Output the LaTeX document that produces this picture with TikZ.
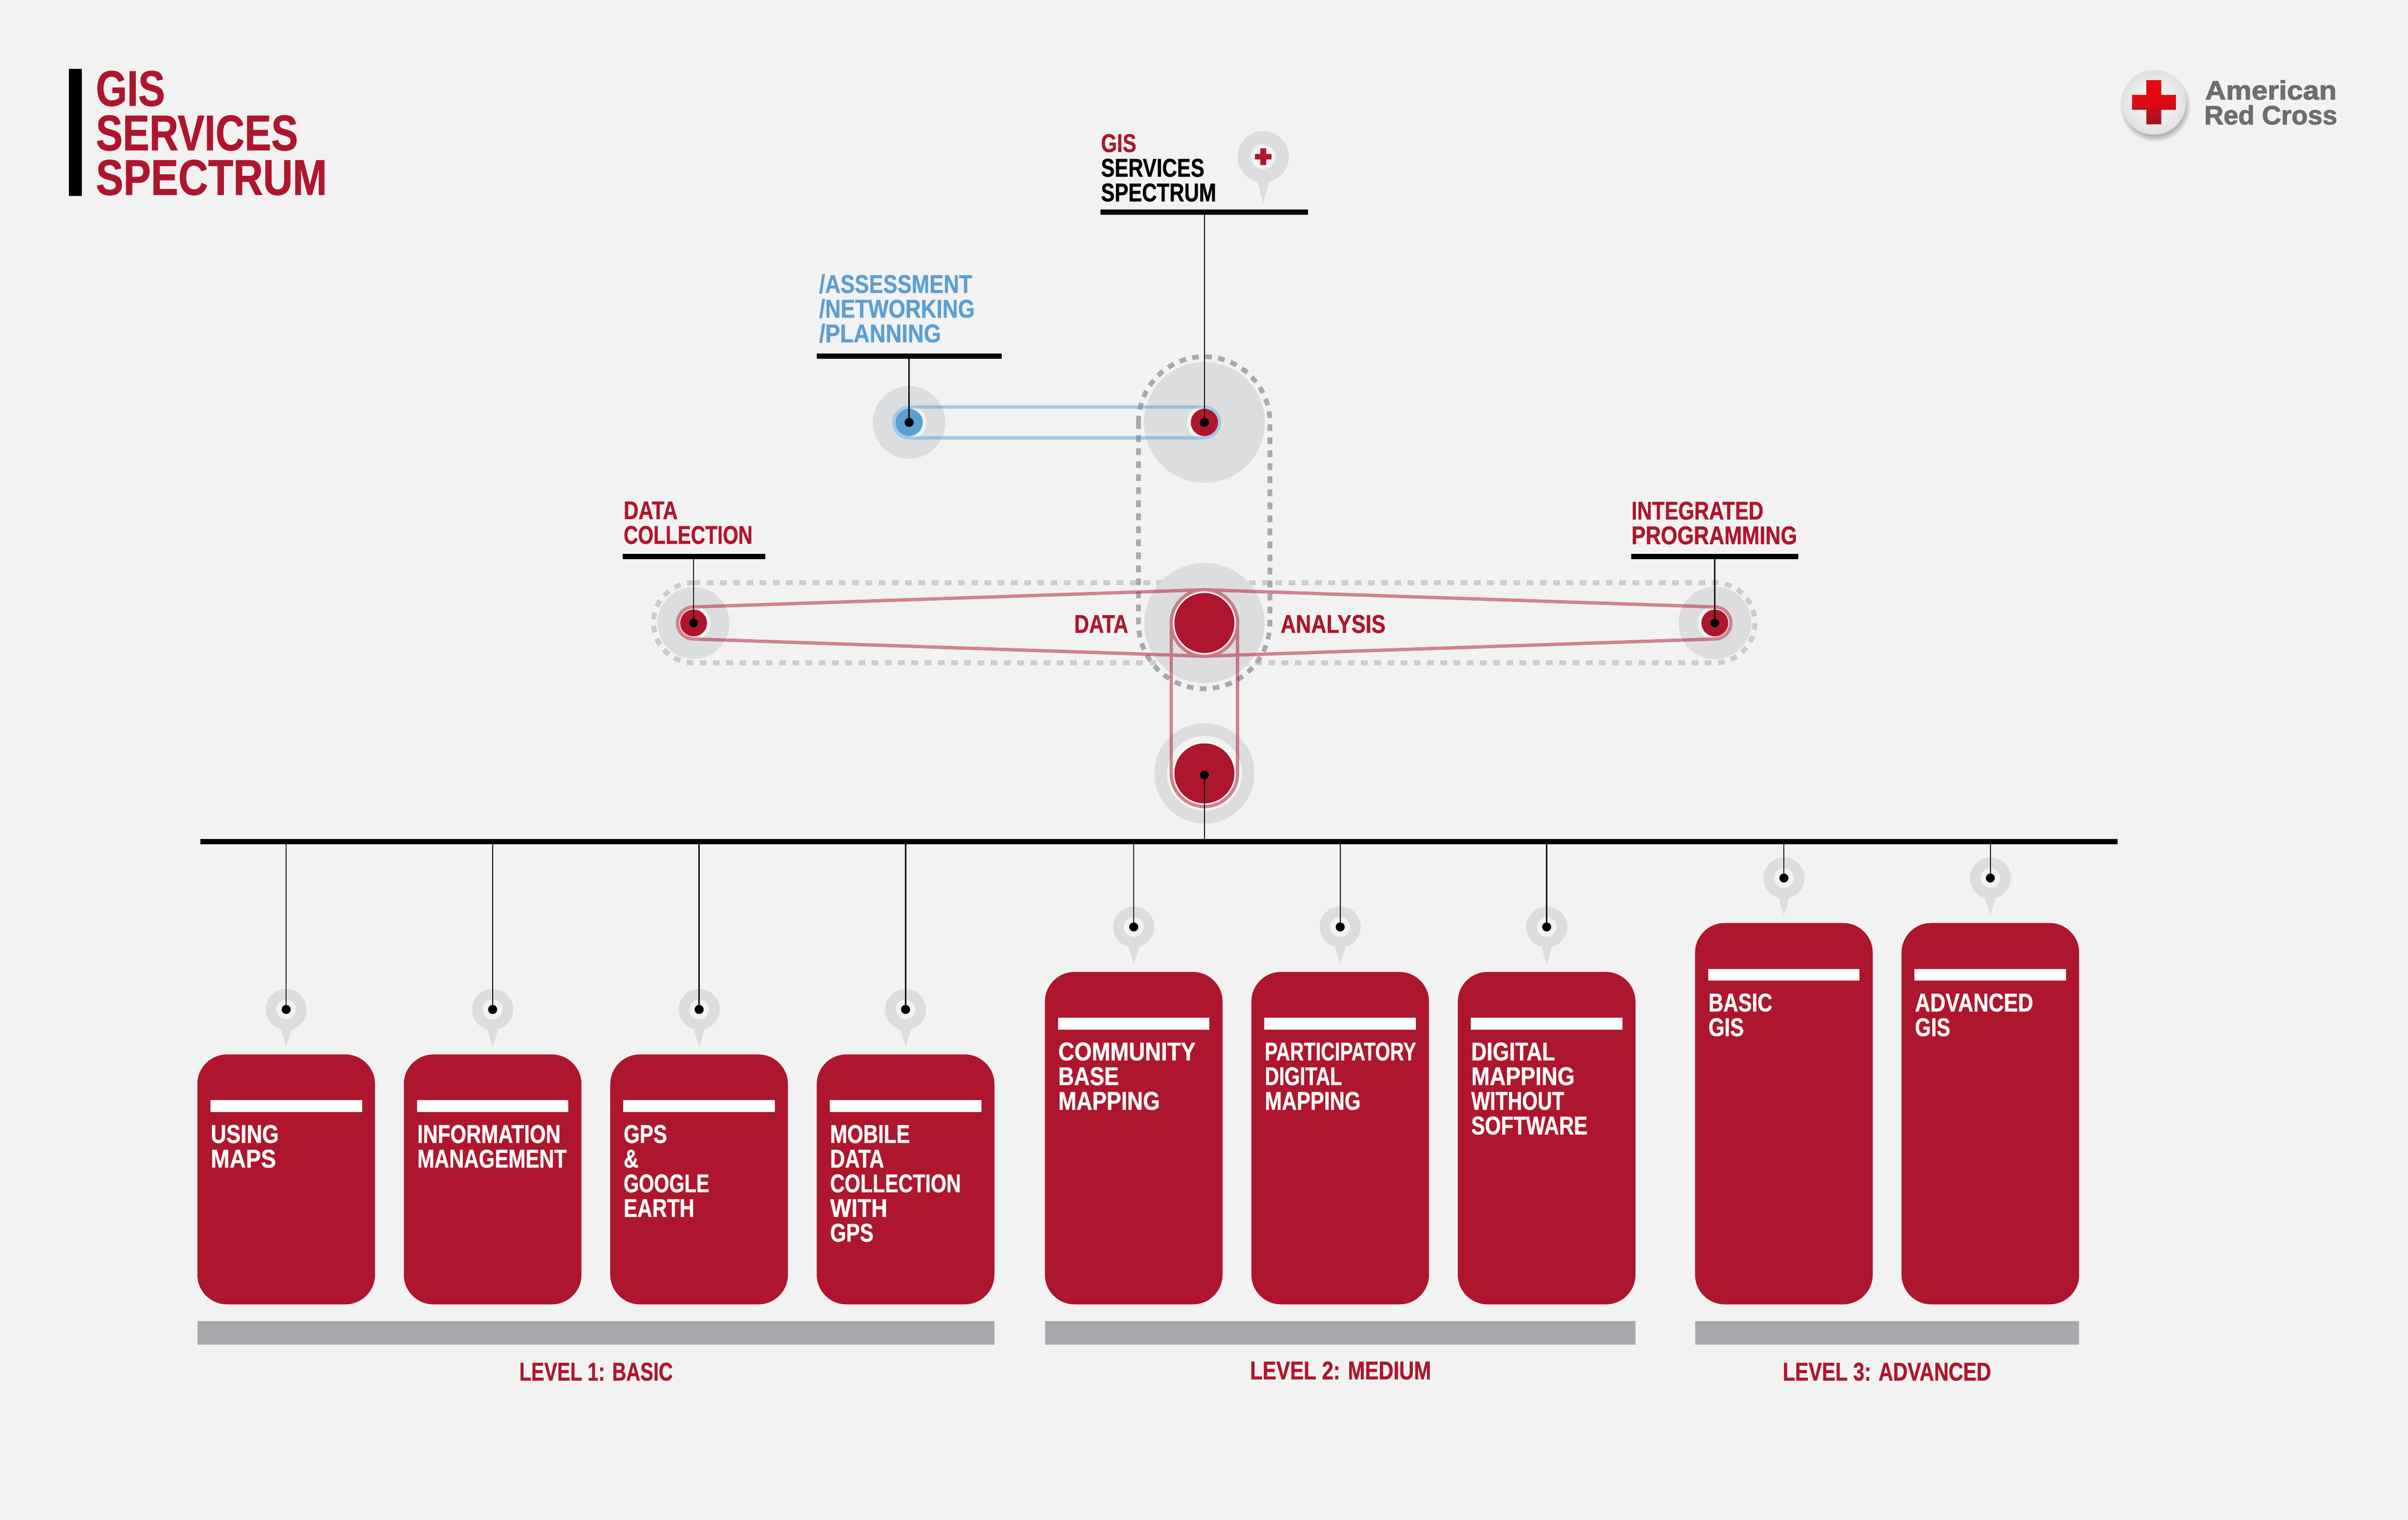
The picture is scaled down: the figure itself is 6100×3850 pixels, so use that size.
\documentclass[tikz,border=0pt]{standalone}
\usepackage{graphicx}
\usepackage{fontspec}
\setmainfont{Liberation Sans}
\newfontfamily\condf[FakeStretch=0.8,FakeBold=0.8]{Liberation Sans}
\newfontfamily\logof[FakeStretch=1.07,FakeBold=2.2]{Liberation Sans}
\definecolor{bgc}{HTML}{F2F2F2}
\definecolor{arc}{HTML}{AE162D}
\definecolor{halo}{HTML}{DCDDDE}
\definecolor{dashd}{HTML}{A7A9AC}
\definecolor{dashl}{HTML}{CBCCCE}
\definecolor{bluec}{HTML}{5B9FD3}
\definecolor{logog}{HTML}{6D6E71}
\tikzset{
  disc/.style={circle,inner sep=0,outer sep=0,draw=none},
  barnode/.style={rectangle,inner sep=0,outer sep=0,draw=none,fill=black},
  lab/.style={anchor=north west,inner sep=0,outer sep=0,align=left,font=\condf\bfseries\fontsize{6.5}{6.25}\selectfont},
  captxt/.style={inner sep=0,outer sep=0,font=\condf\bfseries\fontsize{6.5}{6.25}\selectfont,text=arc},
  stem/.style={draw=black,line width=0.3pt},
  redbox/.style={rectangle,rounded corners=7.5pt,fill=arc,inner sep=0,outer sep=0,anchor=north west,minimum width=45pt},
  whitebar/.style={rectangle,fill=white,inner sep=0,outer sep=0,anchor=north west,minimum width=38.4pt,minimum height=3pt},
  band/.style={rectangle,fill=dashd,inner sep=0,outer sep=0,anchor=north west,minimum height=6pt},
  belt/.style={line width=0.85pt,line join=round},
}
\newcommand\firstl{\rule{0pt}{5pt}}
\newcommand\sx[2]{\scalebox{#1}[1]{#2}}
% name, x, baseline, colour, text
\newcommand\lab[5]{\node[lab,text=#4] (#1) at (#2,{#3-50}) {\firstl #5};}
% pin: name, cx, cy
\newcommand\pin[3]{%
  \fill[halo] (#2,#3) circle[radius=52];
  \fill[halo] (#2-15,#3+45) -- (#2,#3+95) -- (#2+15,#3+45) -- cycle;
  \fill[bgc] (#2,#3) circle[radius=25];
  \node[disc,fill=black,minimum size=2.3pt] (#1) at (#2,#3) {};
  \draw[stem] (main.south -| #1.center) -- (#1.center);
}
% name, left, top, text  (white bar 33 in from the left)
\newcommand\lbox[4]{%
  \node[redbox,minimum height={(3304-#3)*0.1pt}] (#1) at (#2,#3) {};
  \node[whitebar] (#1bar) at (#2+33,#3+116) {};
  \lab{#1txt}{#2+34}{#3+224}{white}{#4}
}
\begin{document}
\begin{tikzpicture}[x=0.1pt,y=-0.1pt]
\useasboundingbox (0,0) rectangle (6100,3850);
\fill[bgc] (0,0) rectangle (6100,3850);

% title
\node[barnode,anchor=north west,minimum width=3.3pt,minimum height=32.1pt] (titlebar) at (175,175) {};
\node[anchor=north west,inner sep=0,outer sep=0,align=left,text=arc,font=\condf\bfseries\fontsize{12.7}{11.27}\selectfont] (title) at (243,168) {\rule{0pt}{10pt}GIS\\SERVICES\\\sx{1.027}{SPECTRUM}};

% logo
\foreach \k in {1,...,8}{\fill[black,opacity=0.035] (5460,270) ellipse[x radius=72+2.2*\k,y radius=72+2.2*\k];}
\shade[inner color=white,outer color=white!88!black] (5456,259) circle[radius=82];
\shade[top color=red!75!arc,bottom color=arc!90!black,middle color=red!60!arc]
  (5437,203) -- (5475,203) -- (5475,240) -- (5512,240) -- (5512,278) -- (5475,278) -- (5475,315) -- (5437,315) -- (5437,278) -- (5401,278) -- (5401,240) -- (5437,240) -- cycle;
\node[inner sep=0,outer sep=0,anchor=base west,text=logog,font=\logof\bfseries\fontsize{6.7}{6.7}\selectfont] (logo1) at (5586,252) {\sx{1.02}{American}};
\node[inner sep=0,outer sep=0,anchor=base west,text=logog,font=\logof\bfseries\fontsize{6.7}{6.7}\selectfont] (logo2) at (5584,315) {\sx{.94}{Red Cross}};

% horizontal dashed hull (under the halos)
\draw[dashl,line width=1.25pt,dash pattern=on 1.7pt off 1.65pt]
  (1757,1476) -- (4344,1476) arc[start angle=-90,end angle=90,radius=101.5]
  -- (1757,1679) arc[start angle=90,end angle=270,radius=101.5] -- cycle;

% halos
\node[disc,fill=halo,minimum size=18.4pt] (hassess) at (2303,1070) {};
\node[disc,fill=halo,minimum size=30.6pt] (hgis) at (3051,1070) {};
\node[disc,fill=halo,minimum size=30.4pt] (hmid) at (3051,1578) {};
\node[disc,fill=halo,minimum size=18.2pt] (hleft) at (1757,1578) {};
\node[disc,fill=halo,minimum size=18.4pt] (hright) at (4344,1578) {};
\node[disc,fill=halo,minimum size=25.4pt] (hbottom) at (3051,1959) {};

% light rings
\node[disc,fill=bgc,minimum size=8.8pt] (lassess) at (2303,1070) {};
\node[disc,fill=bgc,minimum size=8.8pt] (lgis) at (3051,1070) {};
\node[disc,fill=bgc,minimum size=8.6pt] (lleft) at (1757,1578) {};
\node[disc,fill=bgc,minimum size=8.6pt] (lright) at (4344,1578) {};
\node[disc,fill=bgc,minimum size=19pt] (lbottom) at (3051,1959) {};
\node[disc,fill=white,minimum size=16.4pt] (wmid) at (3051,1578) {};
\node[disc,fill=white,minimum size=16.2pt] (wbottom) at (3051,1959) {};

% vertical dashed hull
\draw[dashd,line width=1.2pt,dash pattern=on 1.7pt off 1.6pt]
  (2884,1070) arc[start angle=180,end angle=360,radius=166.5]
  -- (3217,1578) arc[start angle=0,end angle=180,radius=166.5] -- cycle;

% discs
\node[disc,fill=bluec,minimum size=6.9pt] (assess) at (2303,1070) {};
\node[disc,fill=arc,minimum size=6.9pt] (gis) at (3051,1070) {};
\node[disc,fill=arc,minimum size=15.2pt] (mid) at (3051,1578) {};
\node[disc,fill=arc,minimum size=6.8pt] (leftn) at (1757,1578) {};
\node[disc,fill=arc,minimum size=6.8pt] (rightn) at (4344,1578) {};
\node[disc,fill=arc,minimum size=15.2pt] (bottomn) at (3051,1959) {};

% belts
\draw[belt,bluec,draw opacity=0.5]
  (2303,1031) -- (3051,1031) arc[start angle=-90,end angle=90,radius=39]
  -- (2303,1109) arc[start angle=90,end angle=270,radius=39] -- cycle;
\draw[belt,arc,draw opacity=0.5]
  (1755.6,1537.5) -- (3048.2,1494) arc[start angle=-91.93,end angle=-88.07,radius=84]
  -- (4345.4,1537.5) arc[start angle=-88.07,end angle=88.07,radius=40.5]
  -- (3053.8,1662) arc[start angle=88.07,end angle=91.93,radius=84]
  -- (1755.6,1618.5) arc[start angle=91.93,end angle=268.07,radius=40.5] -- cycle
  (3051,1578) circle[radius=84]
  (2967,1578) -- (2967,1959) arc[start angle=180,end angle=0,radius=84] -- (3135,1578);

% main bar and label bars
\node[barnode,anchor=north west,minimum width=485.7pt,minimum height=1.4pt] (main) at (508,2125) {};
\node[barnode,anchor=north west,minimum width=52.5pt,minimum height=1.35pt] (bgis) at (2788,531) {};
\node[barnode,anchor=north west,minimum width=46.9pt,minimum height=1.25pt] (bassess) at (2069,896) {};
\node[barnode,anchor=north west,minimum width=36.1pt,minimum height=1.3pt] (bleft) at (1577,1403) {};
\node[barnode,anchor=north west,minimum width=42.3pt,minimum height=1.3pt] (bright) at (4132,1403) {};

% black dots
\node[disc,fill=black,minimum size=2.3pt] (dgis) at (3051,1070) {};
\node[disc,fill=black,minimum size=2.3pt] (dassess) at (2303,1070) {};
\node[disc,fill=black,minimum size=2.2pt] (dleft) at (1757,1578) {};
\node[disc,fill=black,minimum size=2.2pt] (dright) at (4344,1578) {};
\node[disc,fill=black,minimum size=2.2pt] (dbottom) at (3051,1963) {};
\draw[stem] (bgis.south -| dgis.center) -- (dgis.center);
\draw[stem] (bassess.south -| dassess.center) -- (dassess.center);
\draw[stem] (bleft.south -| dleft.center) -- (dleft.center);
\draw[stem] (bright.south -| dright.center) -- (dright.center);
\draw[stem] (dbottom.center) -- (main.north -| dbottom.center);

% labels
\node[lab] (lgistxt) at (2789,335) {\firstl\textcolor{arc}{GIS}\\SERVICES\\SPECTRUM};
\lab{lassesstxt}{2075}{742}{bluec}{\sx{1.04}{/ASSESSMENT}\\\sx{1.05}{/NETWORKING}\\\sx{1.08}{/PLANNING}}
\lab{lefttxt}{1580}{1315}{arc}{DATA\\\sx{.966}{COLLECTION}}
\lab{righttxt}{4133}{1316}{arc}{INTEGRATED\\\sx{1.03}{PROGRAMMING}}
\node[captxt,anchor=base east] (datatxt) at (2858,1603) {DATA};
\node[captxt,anchor=base west] (analysistxt) at (3244,1603) {\sx{1.03}{ANALYSIS}};

% top pin
\fill[halo] (3200,397) circle[radius=65];
\fill[halo] (3183,450) -- (3200,515) -- (3217,450) -- cycle;
\node[disc,fill=bgc,minimum size=6.2pt] (pintop) at (3200,397) {};
\fill[arc] (3192.5,376) -- (3207.5,376) -- (3207.5,390) -- (3221,390) -- (3221,404) -- (3207.5,404) -- (3207.5,418) -- (3192.5,418) -- (3192.5,404) -- (3179,404) -- (3179,390) -- (3192.5,390) -- cycle;

% level 1
\lbox{a1}{500}{2671}{\sx{1.047}{USING}\\\sx{1.1}{MAPS}}
\lbox{a2}{1023}{2671}{INFORMATION\\MANAGEMENT}
\lbox{a3}{1546}{2671}{GPS\\\&\\\sx{.95}{GOOGLE}\\EARTH}
\lbox{a4}{2069}{2671}{MOBILE\\DATA\\\sx{.98}{COLLECTION}\\\sx{1.09}{WITH}\\GPS}
\pin{pa1}{725}{2557}
\pin{pa2}{1248}{2557}
\pin{pa3}{1771}{2557}
\pin{pa4}{2294}{2557}
\node[band,minimum width=201.9pt] (banda) at (500,3346) {};
\node[captxt,anchor=base] (leva) at (1510,3497) {\sx{.95}{LEVEL 1: BASIC}};

% level 2
\lbox{b1}{2647}{2462}{\sx{1.085}{COMMUNITY}\\\sx{1.06}{BASE}\\\sx{1.06}{MAPPING}}
\lbox{b2}{3170}{2462}{\sx{.934}{PARTICIPATORY}\\\sx{.96}{DIGITAL}\\MAPPING}
\lbox{b3}{3693}{2462}{\sx{1.04}{DIGITAL}\\\sx{1.08}{MAPPING}\\\sx{.97}{WITHOUT}\\SOFTWARE}
\pin{pb1}{2872}{2348}
\pin{pb2}{3395}{2348}
\pin{pb3}{3918}{2348}
\node[band,minimum width=149.6pt] (bandb) at (2647,3346) {};
\node[captxt,anchor=base] (levb) at (3396,3494) {LEVEL 2: MEDIUM};

% level 3
\lbox{c1}{4294}{2338}{BASIC\\GIS}
\lbox{c2}{4817}{2338}{\sx{1.03}{ADVANCED}\\GIS}
\pin{pc1}{4519}{2224}
\pin{pc2}{5042}{2224}
\node[band,minimum width=97.3pt] (bandc) at (4294,3346) {};
\node[captxt,anchor=base] (levc) at (4780,3497) {\sx{.98}{LEVEL 3: ADVANCED}};
\end{tikzpicture}
\end{document}
